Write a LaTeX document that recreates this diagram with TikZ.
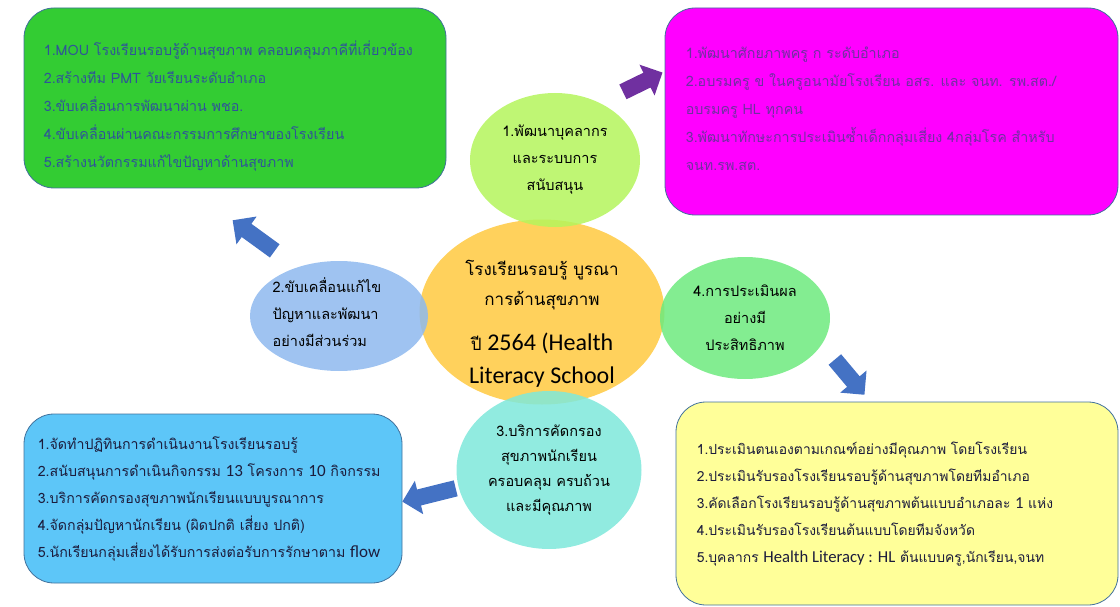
\documentclass[tikz,border=0pt]{standalone}
\usepackage{fontspec}
\setmainfont[Script=Thai]{Loma}
\newfontfamily\latin[Scale=1.2]{Carlito}
\usetikzlibrary{shapes.geometric,shapes.arrows}
\definecolor{boxgreen}{HTML}{33CC33}
\definecolor{boxpink}{HTML}{FF00FF}
\definecolor{boxblue}{HTML}{5DC6F8}
\definecolor{boxyellow}{HTML}{FFFF99}
\definecolor{frame}{HTML}{41719C}
\definecolor{txtblue}{HTML}{2F5597}
\definecolor{txtpurple}{HTML}{7030A0}
\definecolor{txtdark}{HTML}{1C1C3C}
\definecolor{midorange}{HTML}{FFC93F}
\definecolor{lime}{HTML}{B4F55C}
\definecolor{skyblue}{HTML}{8EB9EE}
\definecolor{aqua}{HTML}{7EE8DA}
\definecolor{mint}{HTML}{6DEA7E}
\definecolor{arrowblue}{HTML}{4472C4}
\begin{document}
\begin{tikzpicture}[x=1pt,y=-1pt,
	box/.style={draw=frame,line width=0.8pt,rounded corners=30pt,inner sep=0pt},
	list/.style={anchor=west,align=left,inner sep=0pt},
	bubble/.style={ellipse,inner sep=0pt,align=center,fill opacity=0.85,text opacity=1,font=\fontsize{14.5}{27}\selectfont},
	blockarrow/.style={single arrow,draw=none,fill=arrowblue,inner xsep=0pt,inner ysep=8pt,single arrow head extend=9pt}]
	\useasboundingbox (0,0) rectangle (1120,607);
	% boxes
	\node[box,fill=boxgreen,minimum width=422pt,minimum height=180pt] (plan) at (235,98) {};
	\node[box,fill=boxpink,minimum width=453pt,minimum height=207pt] (staff) at (891.5,111.5) {};
	\node[box,fill=boxblue,minimum width=378pt,minimum height=169pt] (screen) at (213,498.5) {};
	\node[box,fill=boxyellow,minimum width=442pt,minimum height=203pt] (assess) at (897,503.5) {};
	% box texts
	\node[list,text=txtblue,font=\fontsize{14.3}{28}\selectfont] (planText) at ([xshift=20pt,yshift=-8pt]plan.west)
	{1.MOU โรงเรียนรอบรู้ด้านสุขภาพ คลอบคลุมภาคีที่เกี่ยวข้อง\\2.สร้างทีม PMT วัยเรียนระดับอำเภอ\\3.ขับเคลื่อนการพัฒนาผ่าน พชอ.\\4.ขับเคลื่อนผ่านคณะกรรมการศึกษาของโรงเรียน\\5.สร้างนวัตกรรมแก้ไขปัญหาด้านสุขภาพ};
	\node[list,text=txtpurple,font=\fontsize{14.3}{28}\selectfont] (staffText) at ([xshift=21pt,yshift=3pt]staff.west)
	{1.พัฒนาศักยภาพครู ก ระดับอำเภอ\\2.อบรมครู ข ในครูอนามัยโรงเรียน อสร. และ จนท. รพ.สต./\\อบรมครู HL ทุกคน\\3.พัฒนาทักษะการประเมินซ้ำเด็กกลุ่มเสี่ยง 4กลุ่มโรค สำหรับ\\จนท.รพ.สต.};
	\node[list,text=txtdark,font=\fontsize{14.2}{27}\selectfont] (screenText) at ([xshift=14pt]screen.west)
	{1.จัดทำปฏิทินการดำเนินงานโรงเรียนรอบรู้\\2.สนับสนุนการดำเนินกิจกรรม {\latin 13} โครงการ {\latin 10} กิจกรรม\\3.บริการคัดกรองสุขภาพนักเรียนแบบบูรณาการ\\4.จัดกลุ่มปัญหานักเรียน (ผิดปกติ เสี่ยง ปกติ)\\5.นักเรียนกลุ่มเสี่ยงได้รับการส่งต่อรับการรักษาตาม {\latin flow}};
	\node[list,text=txtdark,font=\fontsize{13.9}{27}\selectfont] (assessText) at ([xshift=21pt,yshift=-1pt]assess.west)
	{1.ประเมินตนเองตามเกณฑ์อย่างมีคุณภาพ โดยโรงเรียน\\2.ประเมินรับรองโรงเรียนรอบรู้ด้านสุขภาพโดยทีมอำเภอ\\3.คัดเลือกโรงเรียนรอบรู้ด้านสุขภาพต้นแบบอำเภอละ {\latin 1} แห่ง\\4.ประเมินรับรองโรงเรียนต้นแบบโดยทีมจังหวัด\\5.บุคลากร {\latin Health Literacy : HL} ต้นแบบครู,นักเรียน,จนท};
	% ellipses
	\node[bubble,fill=midorange,minimum width=245pt,minimum height=185pt] (core) at (542,312) {};
	\node[align=center,inner sep=0pt,font=\fontsize{17}{30}\selectfont] (coreText) at ([yshift=-12pt]core.center)
	{โรงเรียนรอบรู้ บูรณา\\การด้านสุขภาพ\\[15pt]ปี {\fontsize{20}{30}\selectfont\latin 2564 (Health}\\[3pt]{\fontsize{20}{30}\selectfont\latin Literacy School}};
	\node[bubble,fill=lime,minimum width=170pt,minimum height=134pt] (dev) at (555,160)
	{1.พัฒนาบุคลากร\\และระบบการ\\สนับสนุน};
	\node[bubble,fill=skyblue,minimum width=178pt,minimum height=110pt] (drive) at (339,316) {};
	\node[align=left,inner sep=0pt,font=\fontsize{14.5}{27}\selectfont] (driveText) at ([xshift=-12pt,yshift=4pt]drive.center)
	{2.ขับเคลื่อนแก้ไข\\ปัญหาและพัฒนา\\อย่างมีส่วนร่วม};
	\node[bubble,fill=aqua,minimum width=185pt,minimum height=158pt,font=\fontsize{14.5}{25}\selectfont] (serv) at (549,470)
	{3.บริการคัดกรอง\\สุขภาพนักเรียน\\ครอบคลุม ครบถ้วน\\และมีคุณภาพ};
	\node[bubble,fill=mint,minimum width=170pt,minimum height=122pt] (eval) at (745,318)
	{4.การประเมินผล\\อย่างมี\\ประสิทธิภาพ};
	% arrows
	\node[blockarrow,fill=txtpurple,minimum height=44pt,rotate=26] (toStaff) at (639,84) {};
	\node[blockarrow,minimum height=52pt,rotate=144] (toPlan) at (257,238) {};
	\node[blockarrow,minimum height=46pt,rotate=-50] (toAssess) at (847,374) {};
	\node[blockarrow,minimum height=55pt,rotate=194] (toScreen) at (433,494) {};
\end{tikzpicture}
\end{document}
